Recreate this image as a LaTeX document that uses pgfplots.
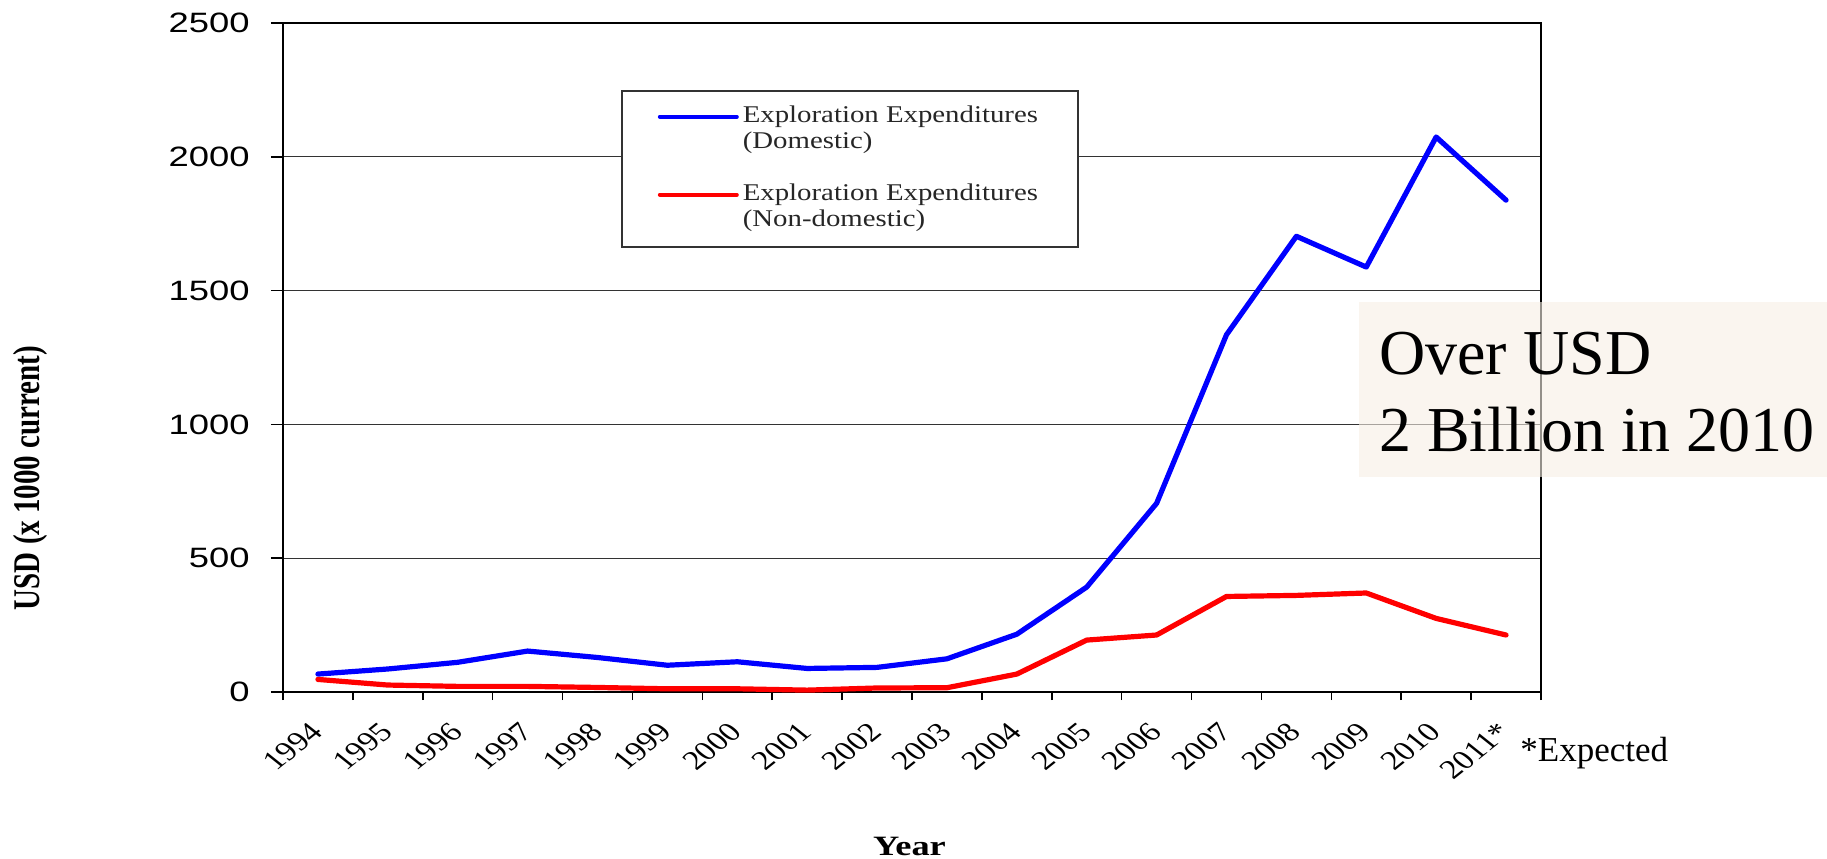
\documentclass[border=0pt]{standalone}
\usepackage{fontspec}
\setmainfont{Liberation Serif}
\newfontfamily\chartserif{Liberation Serif}[FakeStretch=1.3]
\newfontfamily\legendserif{Liberation Serif}[FakeStretch=1.2]
\newfontfamily\chartsans{Liberation Sans}[FakeStretch=1.3]
\usepackage{pgfplots}
\pgfplotsset{compat=1.18}
\definecolor{boxfill}{RGB}{246,239,229}
\definecolor{domblue}{RGB}{0,0,255}
\definecolor{nonred}{RGB}{255,0,0}

\pgfplotstableread{
x dom nondom
0 67 47
1 86 26
2 111 21
3 153 21
4 129 17
5 100 12
6 113 12
7 88 7
8 92 15
9 124 16
10 216 67
11 392 194
12 705 213
13 1335 357
14 1703 361
15 1588 370
16 2074 275
17 1838 213
}\expdata

\begin{document}
\begin{tikzpicture}
\useasboundingbox (-141.5pt,-83pt) rectangle (772pt,346pt);
\begin{axis}[
  at={(0,0)}, anchor=south west,
  scale only axis, width=629pt, height=334.5pt,
  xmin=-0.5, xmax=17.5, ymin=0, ymax=2500,
  clip=false,
  xtick={0,...,17},
  xticklabels={1994,1995,1996,1997,1998,1999,2000,2001,2002,2003,2004,2005,2006,2007,2008,2009,2010,2011*},
  minor xtick={-0.5,0.5,...,17.5},
  major x tick style={draw=none},
  minor x tick style={black, line width=0.8pt},
  minor tick length=4pt,
  ytick={0,500,1000,1500,2000,2500},
  yticklabels={0,500,1000,1500,2000,2500},
  major tick length=6pt,
  y tick style={black, line width=0.8pt},
  tick align=outside,
  xtick pos=bottom, ytick pos=left,
  ymajorgrids,
  major grid style={black!80, line width=0.6pt},
  axis line style={black, line width=1.4pt},
  yticklabel style={font=\chartsans\fontsize{14}{16}\selectfont, anchor=east, inner sep=0pt, xshift=-10.5pt},
  xticklabel style={font=\fontsize{13.5}{16}\selectfont, inner sep=0pt, xshift=-0.5pt, yshift=-11.5pt, cm={0.884,0.707,-0.884,0.707,(0,0)}, anchor=east},
  ylabel={\bfseries USD (x 1000 current)},
  every axis y label/.style={at={(axis description cs:-0.201,0.32)}, anchor=center, cm={0,1,-1.3,0,(0,0)}, font=\fontsize{14.5}{16}\selectfont},
  xlabel={Year},
  every axis x label/.style={at={(axis description cs:0.498,-0.2437)}, anchor=base, font=\chartserif\bfseries\fontsize{14}{16}\selectfont},
  legend style={at={(axis description cs:0.2687,0.8999)}, anchor=north west, draw=black!80, line width=0.8pt, fill=white,
    inner xsep=18pt, inner ysep=6.5pt, row sep=0pt,
    font=\legendserif\fontsize{12}{13}\selectfont, text=black!85,
    nodes={text height=8.5pt, text depth=2.5pt, inner ysep=1pt}},
  legend cell align=left,
  legend image code/.code={\draw[#1, line width=2pt, line cap=round] (0pt,0pt) -- (38.5pt,0pt);},
]
\addplot[domblue, line width=2.6pt, line join=round, line cap=round] table[x=x, y=dom] {\expdata};
\addlegendentry{Exploration Expenditures}
\addlegendimage{empty legend}
\addlegendentry{(Domestic)}
\addlegendimage{empty legend}
\addlegendentry{}
\addplot[nonred, line width=2.6pt, line join=round, line cap=round] table[x=x, y=nondom] {\expdata};
\addlegendentry{Exploration Expenditures}
\addlegendimage{empty legend}
\addlegendentry{(Non-domestic)}

\fill[boxfill, fill opacity=0.6] (axis description cs:0.8553,0.3214) rectangle (axis description cs:1.2273,0.5830);
\node[anchor=base west, inner sep=0pt, font=\fontsize{32}{38}\selectfont] at (axis description cs:0.8712,0.4753) {Over USD};
\node[anchor=base west, inner sep=0pt, font=\fontsize{32}{38}\selectfont] at (axis description cs:0.8712,0.3602) {2 Billion in 2010};
\node[anchor=base west, inner sep=0pt, font=\fontsize{17.5}{20}\selectfont] at (axis description cs:0.9833,-0.1046) {*Expected};
\end{axis}
\end{tikzpicture}
\end{document}
